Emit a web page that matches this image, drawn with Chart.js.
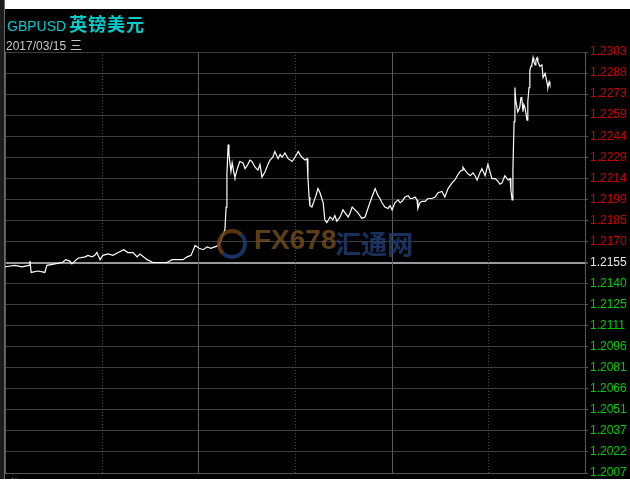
<!DOCTYPE html>
<html>
<head>
<meta charset="utf-8">
<script src="https://cdn.jsdelivr.net/npm/chart.js@4/dist/chart.umd.min.js"></script>
<style>
body{margin:0;background:#fff;font-family:Arial,"Liberation Sans",sans-serif}
#wrap{position:relative;width:630px;height:479px;background:#000;overflow:hidden}
#box{position:absolute;left:0;top:0;width:630px;height:481px}
.topband{position:absolute;left:5px;top:0;width:625px;height:9px;background:#fff}
.leftband{position:absolute;left:0;top:0;width:4px;height:479px;background:#1c1c1c;border-right:1px solid #6a6a6a}
.ttl{position:absolute;left:7px;top:10px;color:#00cccc;white-space:nowrap}
.ttl b{font:normal 14px Arial,"Liberation Sans",sans-serif}
.ttl span{font:bold 18px "Noto Sans CJK SC",sans-serif;margin-left:3px;letter-spacing:1px}
.date{position:absolute;left:6px;top:36px;color:#c8c8c8;font:12px Arial,"Liberation Sans",sans-serif;white-space:nowrap}
.date span{font:12px "Noto Sans CJK SC",sans-serif;margin-left:4px}
.sub{position:absolute;left:6px;top:475px;color:#e0e000;font:12px "Noto Sans CJK SC",sans-serif;white-space:nowrap}
.wm{position:absolute;left:214px;top:224px;white-space:nowrap;opacity:.85;pointer-events:none}
.wm .ring{position:absolute;left:3px;top:5px;width:22px;height:22px;border-radius:50%;border:4px solid;border-color:#6b3f12 #1d3d72 #1d3d72 #6b3f12}
.wm .fx{position:absolute;left:40px;top:0;font:bold 28px Arial,"Liberation Sans",sans-serif;color:#6e4a1c}
.wm .cn{position:absolute;left:121px;top:0;font:bold 26px "Noto Sans CJK SC",sans-serif;color:#1d3b6e}
</style>
</head>
<body>
<div id="wrap">
  <div id="box"><canvas id="c"></canvas></div>
  <div class="topband"></div>
  <div class="leftband"></div>
  <div class="ttl"><b>GBPUSD</b><span>英镑美元</span></div>
  <div class="date">2017/03/15<span>三</span></div>
  <div class="wm"><div class="ring"></div><div class="fx">FX678</div><div class="cn">汇通网</div></div>
  <div class="sub">附图</div>
</div>
<script>
// 分时数据: 分钟 (从开盘起) / 价格
const minutes=[0,25,42,60,62,65,82,99,104,124,142,151,161,166,181,199,206,216,223,228,236,243,256,268,281,295,305,318,328,335,353,367,385,402,415,430,442,452,462,472,482,492,502,511,521,531,539,546,549,551,554,556,561,564,569,571,578,583,591,596,603,608,613,621,628,633,638,646,653,658,665,670,678,683,688,695,703,708,713,720,728,732,737,745,750,752,755,757,762,767,772,777,782,790,794,799,807,814,819,824,832,839,844,852,857,862,869,876,881,886,894,901,906,911,919,926,931,936,943,951,956,961,968,976,981,986,993,1001,1006,1011,1018,1023,1025,1030,1035,1043,1050,1060,1068,1075,1085,1092,1100,1110,1117,1125,1130,1135,1137,1142,1147,1155,1162,1167,1172,1179,1184,1192,1199,1204,1209,1217,1224,1229,1234,1241,1249,1254,1256,1259,1261,1263,1264,1266,1268,1271,1273,1278,1281,1283,1286,1288,1291,1296,1298,1301,1303,1306,1308,1311,1313,1316,1318,1321,1323,1328,1333,1336,1341,1346,1348,1351,1353];
const prices=[1.2152,1.2153,1.2152,1.2153,1.2156,1.2148,1.2149,1.2148,1.2153,1.2154,1.2155,1.2157,1.2156,1.2154,1.2158,1.2159,1.2160,1.2159,1.2160,1.2162,1.2157,1.2160,1.2161,1.2160,1.2162,1.2164,1.2162,1.2162,1.2159,1.2161,1.2157,1.2155,1.2155,1.2155,1.2157,1.2157,1.2157,1.2159,1.2160,1.2167,1.2165,1.2164,1.2166,1.2165,1.2166,1.2167,1.2173,1.2178,1.2194,1.2217,1.2238,1.2231,1.2219,1.2225,1.2217,1.2215,1.2222,1.2226,1.2225,1.2221,1.2224,1.2227,1.2226,1.2222,1.2220,1.2224,1.2215,1.2219,1.2224,1.2227,1.2229,1.2233,1.2228,1.2231,1.2229,1.2232,1.2228,1.2227,1.2226,1.2229,1.2233,1.2231,1.2229,1.2227,1.2228,1.2215,1.2201,1.2195,1.2194,1.2198,1.2202,1.2207,1.2204,1.2197,1.2185,1.2183,1.2187,1.2185,1.2188,1.2184,1.2187,1.2192,1.2190,1.2187,1.2190,1.2194,1.2192,1.2190,1.2188,1.2186,1.2187,1.2193,1.2197,1.2201,1.2207,1.2202,1.2200,1.2197,1.2194,1.2193,1.2195,1.2192,1.2197,1.2199,1.2197,1.2198,1.2201,1.2202,1.2200,1.2200,1.2201,1.2199,1.2193,1.2197,1.2198,1.2198,1.2200,1.2200,1.2201,1.2204,1.2205,1.2201,1.2207,1.2211,1.2213,1.2217,1.2219,1.2220,1.2222,1.2220,1.2218,1.2216,1.2218,1.2216,1.2213,1.2218,1.2221,1.2216,1.2224,1.2219,1.2214,1.2214,1.2212,1.2210,1.2211,1.2216,1.2213,1.2214,1.2206,1.2199,1.2220,1.2243,1.2254,1.2278,1.2269,1.2264,1.2261,1.2264,1.2271,1.2271,1.2261,1.2266,1.2264,1.2255,1.2268,1.2278,1.2290,1.2293,1.2294,1.2299,1.2296,1.2294,1.2297,1.2299,1.2296,1.2293,1.2294,1.2285,1.2288,1.2281,1.2278,1.2282,1.2280];
const prevClose=1.2155;
const yLabels=['1.2303','1.2288','1.2273','1.2259','1.2244','1.2229','1.2214','1.2199','1.2185','1.2170','1.2155','1.2140','1.2125','1.2111','1.2096','1.2081','1.2066','1.2051','1.2037','1.2022','1.2007'];
const yTicks=[1.2303,1.22882,1.22734,1.22586,1.22438,1.2229,1.22142,1.21994,1.21846,1.21698,1.2155,1.21402,1.21254,1.21106,1.20958,1.2081,1.20662,1.20514,1.20366,1.20218,1.2007];
const sessionMinutes=[0,240,480,720,960,1200,1440];

const points=minutes.map((m,i)=>({x:m,y:prices[i]}));

const frame={
  id:'frame',
  beforeDatasetsDraw(chart){
    const {ctx,chartArea:a,scales:{x}}=chart;
    ctx.save();
    ctx.lineWidth=1;
    sessionMinutes.forEach((m,i)=>{
      const px=Math.round(x.getPixelForValue(m))+0.5;
      ctx.strokeStyle=i%2?'#4a4a4a':'#5a5a5a';
      ctx.setLineDash(i%2?[1,2]:[]);
      ctx.beginPath();ctx.moveTo(px,a.top);ctx.lineTo(px,a.bottom);ctx.stroke();
    });
    ctx.setLineDash([]);
    ctx.strokeStyle='#555555';
    ctx.beginPath();ctx.moveTo(a.left,Math.round(a.bottom)+0.5);ctx.lineTo(a.right,Math.round(a.bottom)+0.5);ctx.stroke();
    ctx.restore();
  }
};

new Chart(document.getElementById('c'),{
  type:'line',
  data:{datasets:[{data:points,borderColor:'#ffffff',borderWidth:1.2,pointRadius:0,tension:0,fill:false}]},
  options:{
    responsive:true,maintainAspectRatio:false,animation:false,
    layout:{padding:{top:52,left:5,bottom:0,right:0}},
    plugins:{legend:{display:false},tooltip:{enabled:false}},
    scales:{
      x:{type:'linear',min:0,max:1440,display:false},
      y:{position:'right',min:1.2007,max:1.2303,
        afterBuildTicks(s){s.ticks=yTicks.map(v=>({value:v}))},
        afterFit(s){s.width=45},
        border:{display:true,color:'#555555'},
        grid:{
          color:c=>c.tick&&c.tick.value===prevClose?'#9a9a9a':'#3e3e3e',
          lineWidth:c=>c.tick&&c.tick.value===prevClose?2:1,
          tickLength:3,tickColor:'#555555'
        },
        ticks:{
          padding:2,autoSkip:false,
          font:{family:'Arial, "Liberation Sans", sans-serif',size:12,lineHeight:1},
          color:c=>c.tick.value>prevClose?'#cc0000':(c.tick.value===prevClose?'#e8e8e8':'#00cc00'),
          callback:(v,i)=>yLabels[i]
        }
      }
    }
  },
  plugins:[frame]
});
</script>
</body>
</html>
